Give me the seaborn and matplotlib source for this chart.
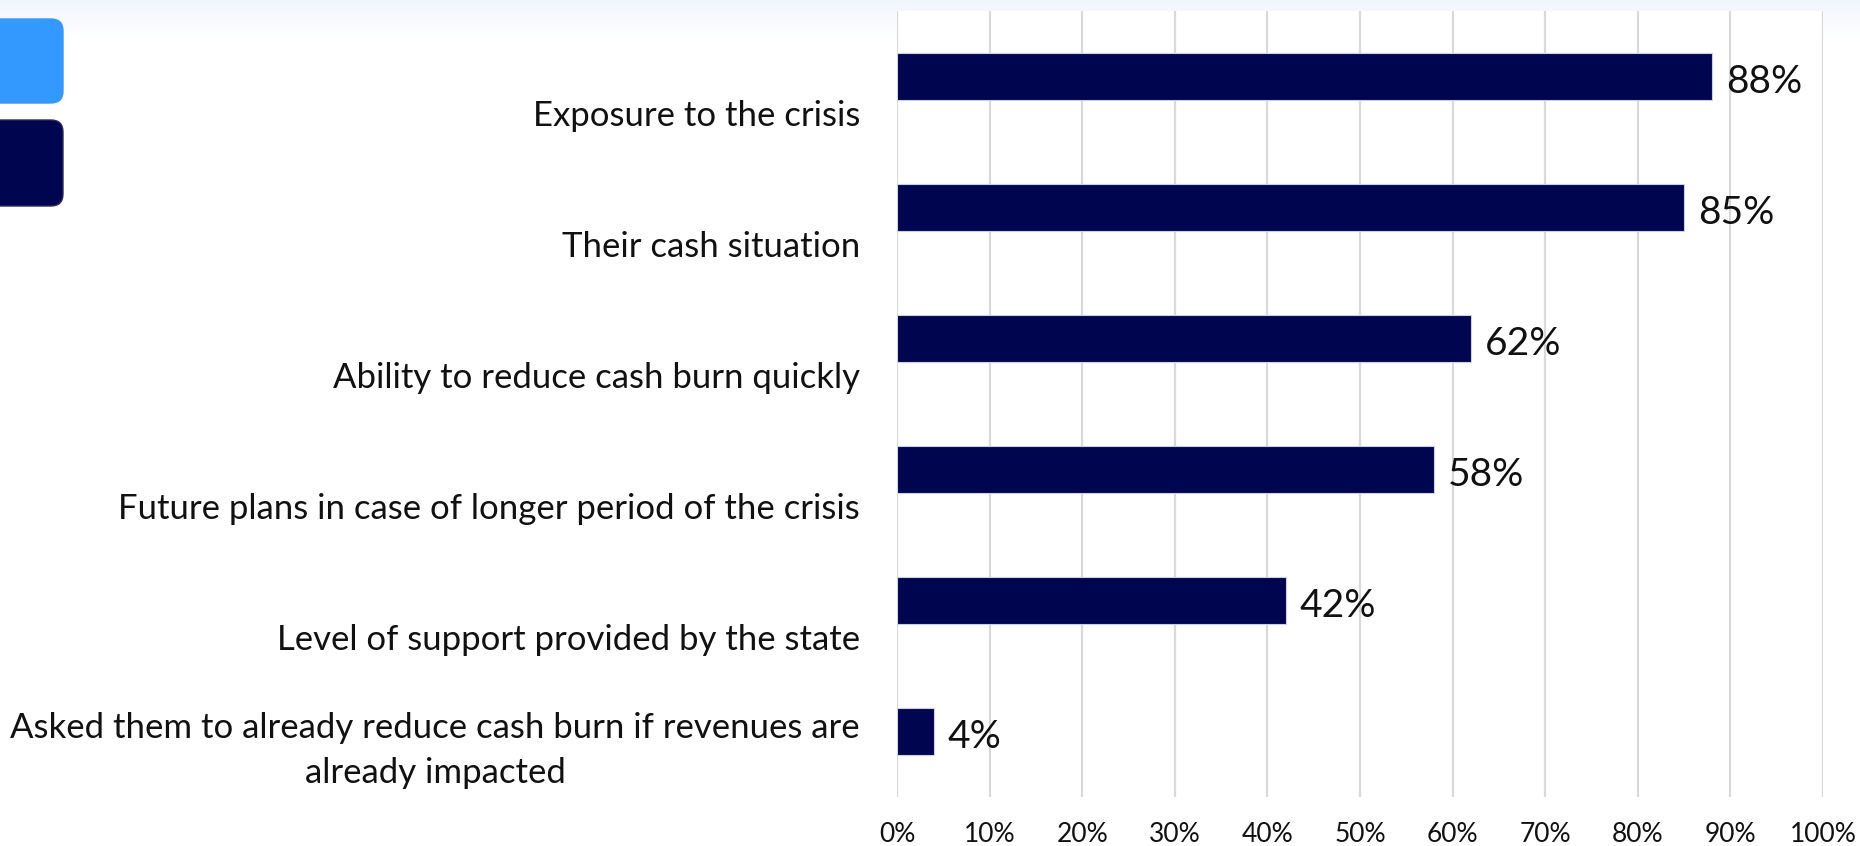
import numpy as np
import pandas as pd
import matplotlib
matplotlib.use("Agg")
import matplotlib.pyplot as plt
import matplotlib.transforms as mtransforms
from matplotlib.patches import FancyBboxPatch
import seaborn as sns

# Survey answers and their shares (%)
categories = [
    "Exposure to the crisis",
    "Their cash situation",
    "Ability to reduce cash burn quickly",
    "Future plans in case of longer period of the crisis",
    "Level of support provided by the state",
    "Asked them to already reduce cash burn if revenues are\nalready impacted",
]
shares = [88, 85, 62, 58, 42, 4]
tick_values = list(range(0, 101, 10))
tick_labels = [f"{v}%" for v in tick_values]

NAVY = "#000550"
LIGHT_BLUE = "#3399FF"
GRID = "#D9D9D9"
TEXT = "#111111"

sns.set_theme(style="white")
plt.rcParams["font.family"] = ["Lato", "DejaVu Sans"]

W, H, DPI = 1860, 846, 100
fig = plt.figure(figsize=(W / DPI, H / DPI), dpi=DPI)
fig.patch.set_facecolor("white")

# faint tinted band along the top edge
band = fig.add_axes([0, 1 - 40 / H, 1, 40 / H], zorder=-5)
grad = np.linspace(0, 1, 64)[:, None]
top = np.array(matplotlib.colors.to_rgb("#F1F6FD"))
white = np.ones(3)
img = top[None, None, :] * (1 - grad[:, :, None]) + white[None, None, :] * grad[:, :, None]
band.imshow(img, aspect="auto", extent=[0, 1, 0, 1])
band.axis("off")

ax = fig.add_axes([897 / W, 1 - 797 / H, (1823 - 897) / W, (797 - 11) / H])

df = pd.DataFrame({"category": categories, "share": shares})
sns.barplot(data=df, x="share", y="category", orient="h", color=NAVY,
            width=0.36, saturation=1, edgecolor="#C9D0E6", linewidth=0.8,
            ax=ax, zorder=3)

ax.set_xlim(0, 100)
ax.set_ylim(len(categories) - 0.5, -0.5)
ax.set_xticks(tick_values)
ax.set_xticklabels(tick_labels, fontsize=19, color=TEXT)
ax.tick_params(axis="x", length=0, pad=18)
ax.set_yticks([])
ax.set_xlabel("")
ax.set_ylabel("")
ax.grid(axis="x", color=GRID, linewidth=1.6)
ax.grid(axis="y", visible=False)
ax.set_axisbelow(True)
for sp in ax.spines.values():
    sp.set_visible(False)

# value labels at bar ends
for i, v in enumerate(shares):
    ax.annotate(f"{v}%", xy=(v, i), xytext=(10, -4), textcoords="offset points",
                ha="left", va="center", fontsize=28, color=TEXT)

# category labels, right-aligned left of the plot, last line sitting below the bar
trans = mtransforms.blended_transform_factory(ax.transAxes, ax.transData)
line_step = 0.16
for i, label in enumerate(categories):
    n = label.count("\n") + 1
    y = i + 0.305 - (n - 1) * line_step
    ax.text(-0.04, y, label, transform=trans, ha="right", va="center",
            multialignment="center", fontsize=25, color=TEXT,
            linespacing=1.52)

# legend swatches clipped at the left edge
ident = mtransforms.IdentityTransform()
for (y0, y1, col, ec) in [(19, 103, LIGHT_BLUE, LIGHT_BLUE), (120, 206, NAVY, "#2a2a5a")]:
    p = FancyBboxPatch((-40, H - y1), 40 + 63, y1 - y0,
                       boxstyle="round,pad=0,rounding_size=12",
                       transform=ident, facecolor=col, edgecolor=ec,
                       linewidth=1.0, zorder=10)
    fig.patches.append(p)

fig.savefig("out.png", dpi=DPI, facecolor="white")
